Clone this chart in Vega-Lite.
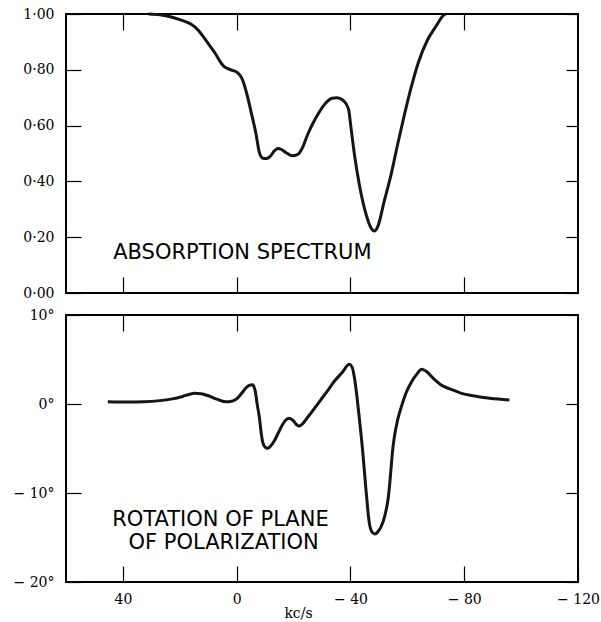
{
  "$schema": "https://vega.github.io/schema/vega-lite/v6.json",
  "padding": {"left": 12, "top": 6, "right": 0, "bottom": 0},
  "background": "white",
  "bounds": "flush",
  "spacing": 22,
  "config": {
    "view": {"stroke": "black", "strokeWidth": 2},
    "axis": {
      "domain": false, "grid": false, "tickColor": "black", "tickWidth": 1.2,
      "labelFont": "DejaVu Serif", "labelFontSize": 14, "labelColor": "black",
      "titleFont": "DejaVu Serif", "titleFontSize": 14, "titleFontWeight": "normal", "titleColor": "black"
    }
  },
  "datasets": {
    "absorption": [
      {"x": 31, "y": 1.0}, {"x": 27, "y": 0.997}, {"x": 23, "y": 0.989}, {"x": 19.5, "y": 0.978},
      {"x": 16, "y": 0.963}, {"x": 13.5, "y": 0.942}, {"x": 11.5, "y": 0.915}, {"x": 9.3, "y": 0.884},
      {"x": 7.3, "y": 0.855}, {"x": 5.5, "y": 0.825}, {"x": 4.5, "y": 0.812}, {"x": 2, "y": 0.8},
      {"x": -0.3, "y": 0.79}, {"x": -1.8, "y": 0.77}, {"x": -3.3, "y": 0.724}, {"x": -5.0, "y": 0.652},
      {"x": -6.8, "y": 0.57}, {"x": -8.0, "y": 0.503}, {"x": -9.2, "y": 0.483}, {"x": -10.5, "y": 0.482},
      {"x": -11.8, "y": 0.49}, {"x": -13.3, "y": 0.51}, {"x": -14.5, "y": 0.518}, {"x": -15.8, "y": 0.514},
      {"x": -17.5, "y": 0.502}, {"x": -19.5, "y": 0.492}, {"x": -21.5, "y": 0.497}, {"x": -23, "y": 0.518},
      {"x": -25, "y": 0.569}, {"x": -27, "y": 0.612}, {"x": -29, "y": 0.648}, {"x": -31.4, "y": 0.682},
      {"x": -33.5, "y": 0.698}, {"x": -35.2, "y": 0.7}, {"x": -37.5, "y": 0.69}, {"x": -39.3, "y": 0.66},
      {"x": -40.2, "y": 0.592}, {"x": -41.4, "y": 0.497}, {"x": -43.1, "y": 0.39}, {"x": -45.5, "y": 0.282},
      {"x": -47.3, "y": 0.232}, {"x": -48.4, "y": 0.222}, {"x": -49.6, "y": 0.238}, {"x": -51.9, "y": 0.33},
      {"x": -54.3, "y": 0.425}, {"x": -56.6, "y": 0.533}, {"x": -59.0, "y": 0.64}, {"x": -61.3, "y": 0.735},
      {"x": -64.0, "y": 0.83}, {"x": -67.0, "y": 0.905}, {"x": -70.0, "y": 0.955}, {"x": -72.8, "y": 0.996},
      {"x": -73.5, "y": 1.0}
    ],
    "rotation": [
      {"x": 45.3, "y": 0.26}, {"x": 38, "y": 0.22}, {"x": 32.5, "y": 0.25}, {"x": 27, "y": 0.38},
      {"x": 23.1, "y": 0.55}, {"x": 19, "y": 0.85}, {"x": 16.5, "y": 1.1}, {"x": 14.9, "y": 1.2},
      {"x": 12.5, "y": 1.15}, {"x": 10.2, "y": 0.95}, {"x": 7, "y": 0.55}, {"x": 4.5, "y": 0.28},
      {"x": 3.1, "y": 0.25}, {"x": 1.3, "y": 0.35}, {"x": -0.4, "y": 0.7}, {"x": -2, "y": 1.3},
      {"x": -3.3, "y": 1.83}, {"x": -4.5, "y": 2.1}, {"x": -5.6, "y": 2.15}, {"x": -6.5, "y": 1.5},
      {"x": -7.2, "y": 0.0}, {"x": -8.0, "y": -1.54}, {"x": -8.6, "y": -3.2}, {"x": -9.2, "y": -4.35},
      {"x": -10, "y": -4.85}, {"x": -10.9, "y": -4.98}, {"x": -12, "y": -4.7}, {"x": -13.2, "y": -4.16},
      {"x": -14.7, "y": -3.2}, {"x": -16.2, "y": -2.28}, {"x": -17.3, "y": -1.8}, {"x": -18.5, "y": -1.61},
      {"x": -19.8, "y": -1.85}, {"x": -21, "y": -2.3}, {"x": -22.0, "y": -2.47}, {"x": -23.3, "y": -2.2},
      {"x": -24.4, "y": -1.72}, {"x": -26.5, "y": -0.85}, {"x": -29.7, "y": 0.53}, {"x": -32, "y": 1.5},
      {"x": -34.4, "y": 2.58}, {"x": -37, "y": 3.5}, {"x": -39.6, "y": 4.46}, {"x": -40.5, "y": 4.2},
      {"x": -41.4, "y": 2.96}, {"x": -42.3, "y": 0.8}, {"x": -43.1, "y": -1.54}, {"x": -44.3, "y": -5.28},
      {"x": -45.5, "y": -9.78}, {"x": -46.6, "y": -13.3}, {"x": -47.6, "y": -14.4}, {"x": -48.6, "y": -14.6},
      {"x": -49.8, "y": -14.3}, {"x": -51.4, "y": -13.3}, {"x": -52.5, "y": -12.0}, {"x": -53.3, "y": -10.5},
      {"x": -53.8, "y": -9.0}, {"x": -54.3, "y": -7.15}, {"x": -54.8, "y": -5.3}, {"x": -55.4, "y": -3.78},
      {"x": -56.5, "y": -1.9}, {"x": -57.8, "y": -0.41}, {"x": -59.5, "y": 1.2}, {"x": -61.3, "y": 2.39},
      {"x": -63.2, "y": 3.3}, {"x": -65.1, "y": 3.9}, {"x": -66.5, "y": 3.7}, {"x": -69.5, "y": 2.77},
      {"x": -72, "y": 2.1}, {"x": -75.4, "y": 1.65}, {"x": -79, "y": 1.2}, {"x": -83.6, "y": 0.9},
      {"x": -89, "y": 0.65}, {"x": -95.9, "y": 0.45}
    ],
    "label_top": [{"x": -2, "y": 0.145, "label": "ABSORPTION SPECTRUM"}],
    "label_bottom": [
      {"x": 5.7, "y": -13.0, "label": "ROTATION OF PLANE"},
      {"x": 4.6, "y": -15.67, "label": "OF POLARIZATION"}
    ]
  },
  "vconcat": [
    {
      "width": 512, "height": 279,
      "layer": [
        {
          "data": {"name": "absorption"},
          "mark": {"type": "line", "color": "#151515", "strokeWidth": 3, "interpolate": "monotone"},
          "encoding": {
            "x": {"field": "x", "type": "quantitative", "scale": {"domain": [60, -120], "nice": false, "zero": false},
                  "axis": {"orient": "bottom", "values": [40, 0, -40, -80], "labels": false, "tickSize": 16, "offset": -16, "title": null}},
            "y": {"field": "y", "type": "quantitative", "scale": {"domain": [0, 1], "nice": false, "zero": false},
                  "axis": {"orient": "left", "values": [0, 0.2, 0.4, 0.6, 0.8, 1], "tickSize": 15, "offset": -15, "labelPadding": 12,
                           "labelExpr": "replace(format(datum.value, '.2f'), '.', '·')", "title": null}},
            "order": {"field": "x", "sort": "descending"}
          }
        },
        {
          "data": {"name": "label_top"},
          "mark": {"type": "text", "font": "DejaVu Sans", "fontSize": 21, "align": "center", "baseline": "middle", "color": "black"},
          "encoding": {
            "x": {"field": "x", "type": "quantitative",
                  "axis": {"orient": "top", "values": [40, 0, -40, -80], "labels": false, "tickSize": 16, "offset": -16, "title": null}},
            "y": {"field": "y", "type": "quantitative",
                  "axis": {"orient": "right", "values": [0, 0.2, 0.4, 0.6, 0.8, 1], "labels": false, "tickSize": 12, "offset": -12, "title": null}},
            "text": {"field": "label"}
          }
        }
      ],
      "resolve": {"axis": {"x": "independent", "y": "independent"}}
    },
    {
      "width": 512, "height": 267,
      "layer": [
        {
          "data": {"name": "rotation"},
          "mark": {"type": "line", "color": "#151515", "strokeWidth": 3, "interpolate": "monotone"},
          "encoding": {
            "x": {"field": "x", "type": "quantitative", "scale": {"domain": [60, -120], "nice": false, "zero": false},
                  "axis": {"orient": "bottom", "values": [40, 0, -40, -80, -120], "tickSize": 16, "offset": -16, "labelPadding": 10, "labelFlush": false,
                           "labelExpr": "datum.value < 0 ? '− ' + abs(datum.value) : '' + datum.value",
                           "title": "kc/s", "titlePadding": 0, "titleX": 232, "titleAlign": "center"}},
            "y": {"field": "y", "type": "quantitative", "scale": {"domain": [-20, 10], "nice": false, "zero": false},
                  "axis": {"orient": "left", "values": [10, 0, -10, -20], "tickSize": 15, "offset": -15, "labelPadding": 12,
                           "labelExpr": "datum.value == 0 ? '0°' : (datum.value < 0 ? '− ' + abs(datum.value) + '°' : datum.value + '°')",
                           "title": null}},
            "order": {"field": "x", "sort": "descending"}
          }
        },
        {
          "data": {"name": "label_bottom"},
          "mark": {"type": "text", "font": "DejaVu Sans", "fontSize": 21, "align": "center", "baseline": "middle", "color": "black"},
          "encoding": {
            "x": {"field": "x", "type": "quantitative",
                  "axis": {"orient": "top", "values": [40, 0, -40, -80], "labels": false, "tickSize": 16, "offset": -16, "title": null}},
            "y": {"field": "y", "type": "quantitative",
                  "axis": {"orient": "right", "values": [10, 0, -10, -20], "labels": false, "tickSize": 12, "offset": -12, "title": null}},
            "text": {"field": "label"}
          }
        }
      ],
      "resolve": {"axis": {"x": "independent", "y": "independent"}}
    }
  ]
}
